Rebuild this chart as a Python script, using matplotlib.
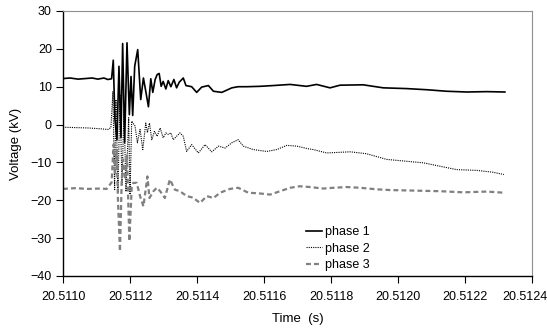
import matplotlib
matplotlib.use("Agg")
import matplotlib.pyplot as plt
import matplotlib.transforms as mtransforms
from matplotlib.ticker import FormatStrFormatter

plt.rcParams['font.family'] = ['Liberation Sans', 'DejaVu Sans']

# Time stamps (s) and voltages (kV) for the three phases
t1 = [20.511000, 20.511021, 20.511045, 20.511066, 20.511087, 20.511104, 20.511122,
      20.511134, 20.511145, 20.511150, 20.511155, 20.511161, 20.511167, 20.511173,
      20.511178, 20.511184, 20.511191, 20.511198, 20.511203, 20.511208, 20.511214,
      20.511223, 20.511232, 20.511240, 20.511247, 20.511255, 20.511262, 20.511268,
      20.511275, 20.511281, 20.511287, 20.511293, 20.511299, 20.511307, 20.511314,
      20.511322, 20.511331, 20.511339, 20.511347, 20.511359, 20.511367, 20.511384,
      20.511399, 20.511414, 20.511434, 20.511449, 20.511474, 20.511504, 20.511523,
      20.511548, 20.511588, 20.511627, 20.511678, 20.511727, 20.511757, 20.511797,
      20.511827, 20.511896, 20.511956, 20.512026, 20.512086, 20.512145, 20.512205,
      20.512265, 20.512319]
v1 = [12.15, 12.3, 12.0, 12.15, 12.3, 12.0, 12.3,
      11.9, 12.1, 17.0, 1.3, -4.0, 15.4, -3.4,
      21.4, -4.7, 21.6, 2.6, 12.7, 2.4, 15.4,
      19.8, 6.6, 12.3, 8.8, 4.7, 12.1, 8.5,
      11.9, 13.2, 13.5, 10.1, 11.4, 9.4, 11.6,
      10.0, 11.9, 9.7, 11.2, 12.3, 10.3, 10.0,
      8.5, 9.9, 10.3, 8.8, 8.5, 9.7, 10.0,
      10.0, 10.1, 10.3, 10.6, 10.1, 10.6, 9.7,
      10.4, 10.5, 9.7, 9.5, 9.2, 8.8, 8.6,
      8.7, 8.6]

t2 = [20.511000, 20.511036, 20.511075, 20.511110, 20.511134, 20.511143, 20.511149,
      20.511154, 20.511158, 20.511164, 20.511170, 20.511176, 20.511182, 20.511188,
      20.511196, 20.511200, 20.511205, 20.511215, 20.511222, 20.511230, 20.511238,
      20.511247, 20.511252, 20.511258, 20.511265, 20.511273, 20.511281, 20.511290,
      20.511299, 20.511307, 20.511314, 20.511322, 20.511329, 20.511339, 20.511349,
      20.511359, 20.511369, 20.511384, 20.511404, 20.511424, 20.511444, 20.511464,
      20.511484, 20.511504, 20.511523, 20.511538, 20.511568, 20.511608, 20.511638,
      20.511668, 20.511698, 20.511732, 20.511747, 20.511787, 20.511857, 20.511906,
      20.511966, 20.512026, 20.512075, 20.512125, 20.512175, 20.512235, 20.512284,
      20.512316]
v2 = [-0.7, -0.8, -0.9, -1.1, -1.3, -0.8, 8.7,
      -17.2, 6.6, -18.0, 7.9, -15.8, 4.0, -17.7,
      1.8, -18.5, 0.9, -0.4, -4.8, -1.3, -6.6,
      0.4, -2.1, 0.4, -4.0, -1.8, -3.1, -0.9,
      -3.5, -2.2, -2.6, -2.2, -4.0, -3.1, -2.2,
      -3.1, -7.1, -5.3, -7.5, -5.3, -7.2, -5.7,
      -6.2, -4.8, -4.0, -5.7, -6.6, -7.1, -6.6,
      -5.5, -5.7, -6.4, -6.6, -7.5, -7.2, -7.7,
      -9.2, -9.7, -10.1, -11.0, -11.9, -12.1, -12.6,
      -13.2]

t3 = [20.511000, 20.511036, 20.511075, 20.511110, 20.511130, 20.511145, 20.511151,
      20.511155, 20.511160, 20.511164, 20.511170, 20.511175, 20.511179, 20.511185,
      20.511191, 20.511198, 20.511205, 20.511210, 20.511220, 20.511230, 20.511240,
      20.511252, 20.511258, 20.511270, 20.511280, 20.511290, 20.511304, 20.511319,
      20.511334, 20.511349, 20.511369, 20.511388, 20.511409, 20.511429, 20.511449,
      20.511469, 20.511498, 20.511523, 20.511553, 20.511588, 20.511618, 20.511648,
      20.511678, 20.511707, 20.511737, 20.511777, 20.511807, 20.511847, 20.511887,
      20.511936, 20.511976, 20.512026, 20.512075, 20.512125, 20.512195, 20.512265,
      20.512316]
v3 = [-17.0, -16.8, -17.0, -16.9, -17.0, -15.3, -5.3,
      -13.2, -6.6, -19.8, -33.5, -15.4, -9.2, -14.5,
      -7.9, -30.8, -16.7, -15.4, -15.4, -18.9, -21.6,
      -13.7, -19.4, -17.6, -16.7, -17.6, -19.4, -14.5,
      -17.2, -17.6, -18.9, -19.3, -20.7, -18.9, -19.4,
      -18.0, -17.0, -16.7, -18.0, -18.2, -18.5, -17.6,
      -16.7, -16.3, -16.5, -16.9, -16.7, -16.5, -16.7,
      -17.1, -17.3, -17.4, -17.5, -17.6, -17.9, -17.7,
      -18.0]

x_ticks = [20.5110, 20.5112, 20.5114, 20.5116, 20.5118, 20.5120, 20.5122, 20.5124]
y_ticks = [-40, -30, -20, -10, 0, 10, 20, 30]

fig = plt.figure(figsize=(5.47, 3.32), dpi=100)
ax = fig.add_axes([0.1152, 0.1687, 0.8574, 0.7982])

ax.plot(t1, v1, color='black', linewidth=1.2, label='phase 1')
ax.plot(t2, v2, color='black', linewidth=0.8, linestyle=(0, (1, 1)), label='phase 2')
ax.plot(t3, v3, color='#808080', linewidth=1.6, linestyle=(0, (2.2, 1.4)), label='phase 3')

ax.set_xlim(20.5110, 20.5124)
ax.set_ylim(-40, 30)
ax.set_xticks(x_ticks)
ax.set_yticks(y_ticks)
ax.xaxis.set_major_formatter(FormatStrFormatter('%.4f'))
ax.tick_params(axis='both', direction='out', length=5, width=0.8, labelsize=9)
ax.tick_params(axis='x', pad=6)
ax.tick_params(axis='y', pad=3)

# keep the last time label inside the figure
last = ax.get_xticklabels()[-1]
shift = mtransforms.ScaledTranslation(-7 / 100, 0, fig.dpi_scale_trans)
last.set_transform(last.get_transform() + shift)

for side in ['top', 'right']:
    ax.spines[side].set_color('#909090')
    ax.spines[side].set_linewidth(0.8)
for side in ['left', 'bottom']:
    ax.spines[side].set_color('black')
    ax.spines[side].set_linewidth(1.0)

ax.set_xlabel('Time  (s)', fontsize=9.5, labelpad=7)
ax.set_ylabel('Voltage (kV)', fontsize=9.5, labelpad=6)

ax.legend(loc='lower left', bbox_to_anchor=(0.505, -0.005), frameon=False, fontsize=9,
          handlelength=1.3, handletextpad=0.2, labelspacing=0.35, borderaxespad=0.1)

fig.savefig('out.png', dpi=100)
